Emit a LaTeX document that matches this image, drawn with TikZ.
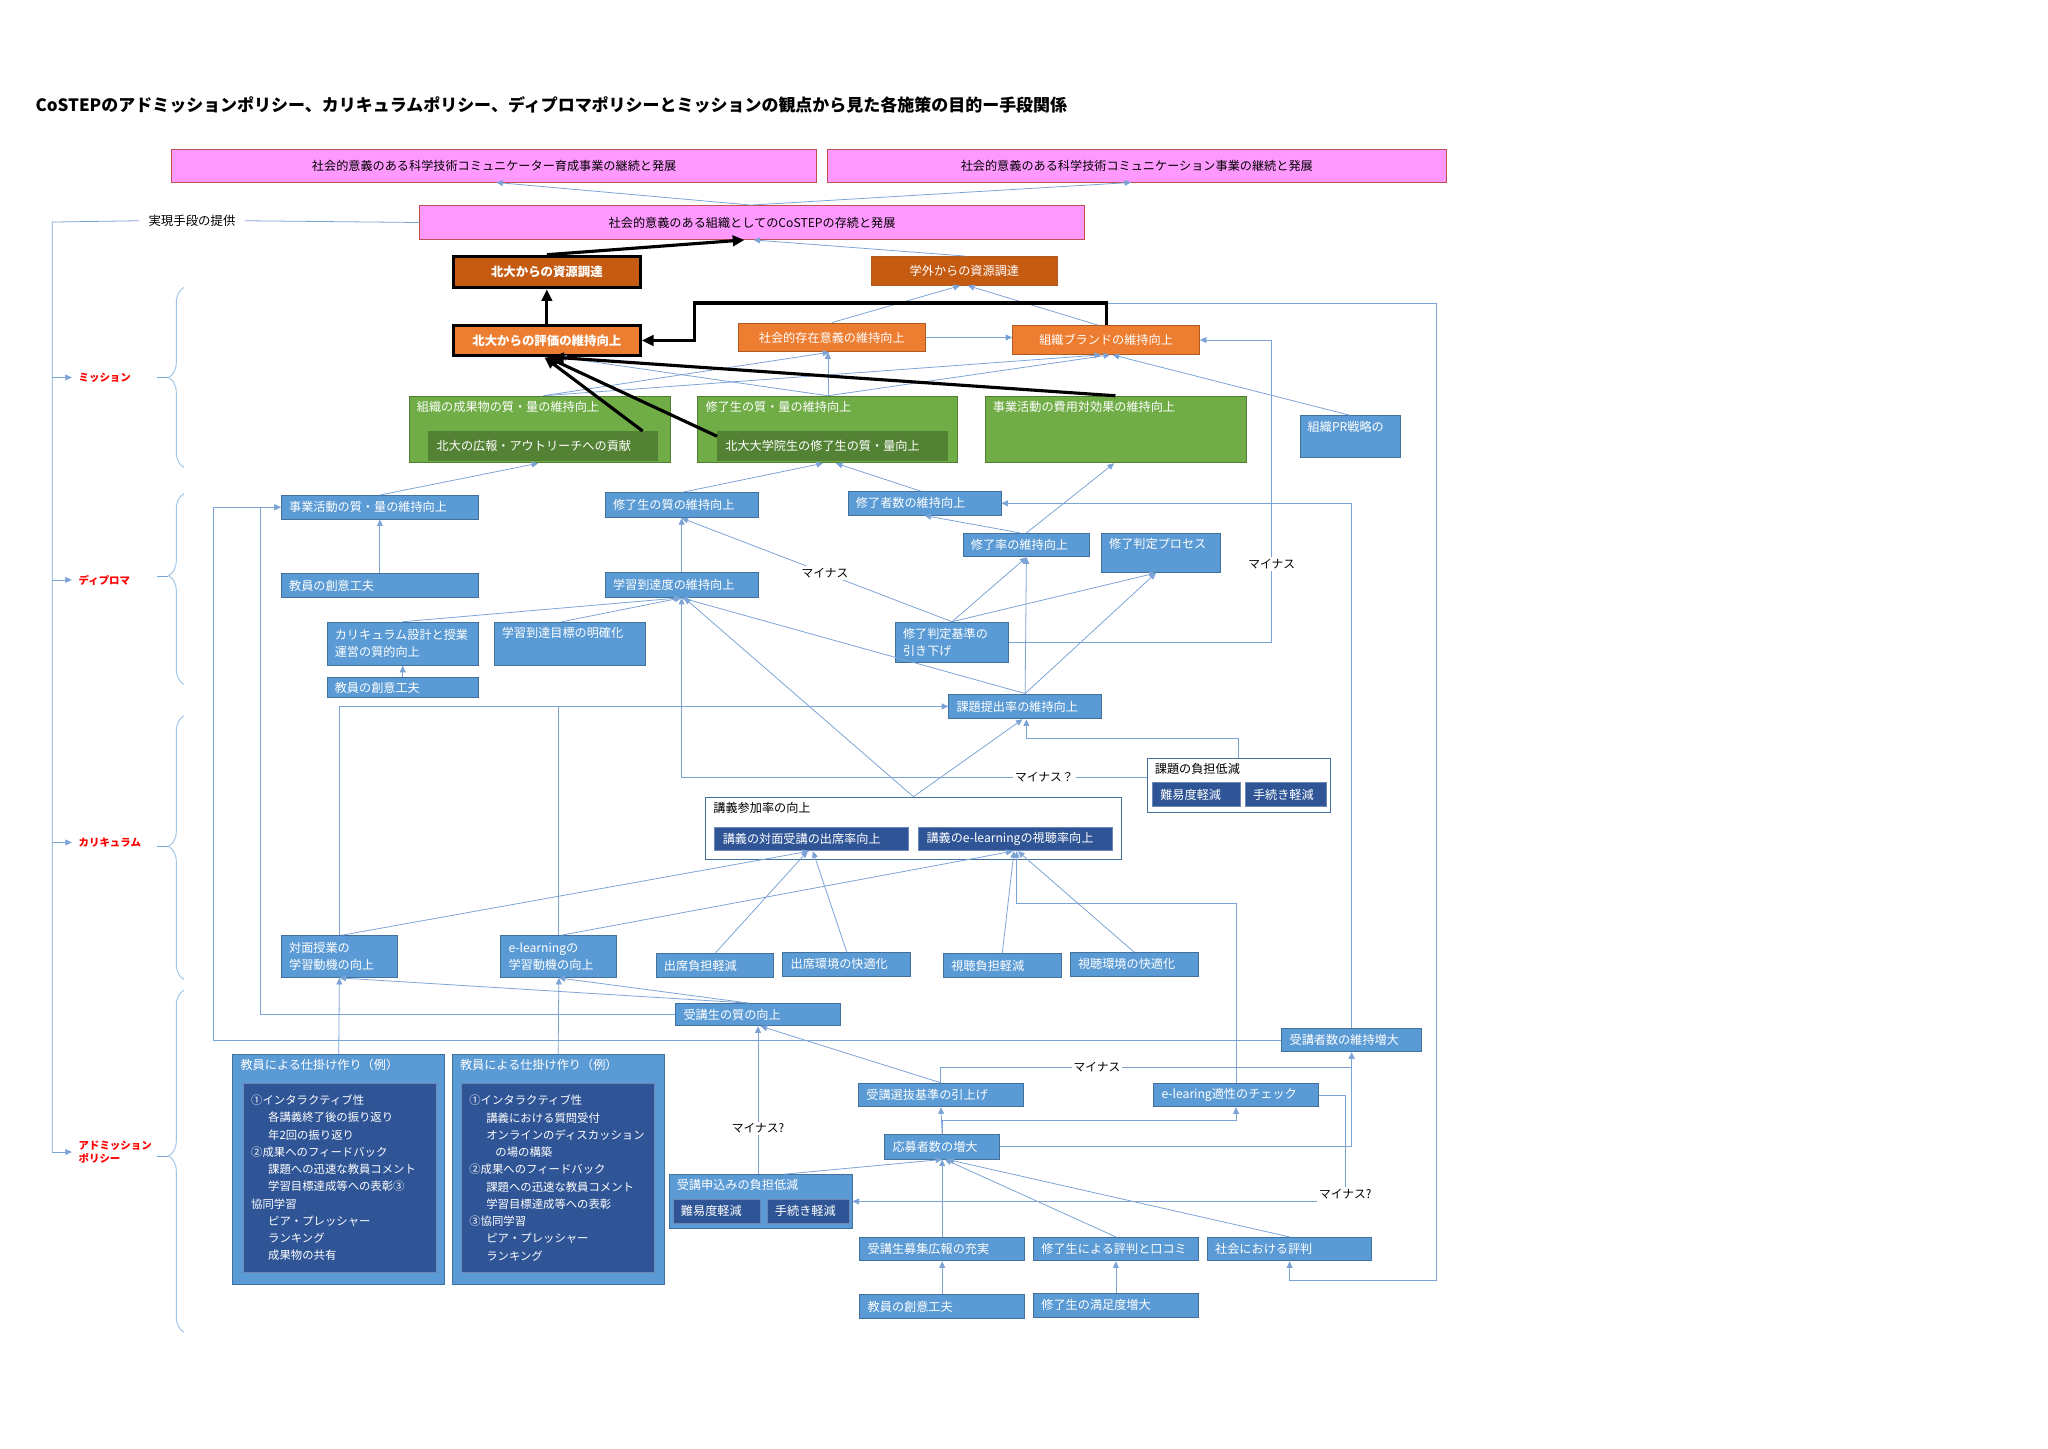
\documentclass[tikz,border=0pt]{standalone}
\usepackage{fontspec}
\setmainfont{Noto Sans CJK JP}
\usetikzlibrary{arrows.meta,calc,decorations.pathreplacing}
\definecolor{cPink}{HTML}{FF99FF}
\definecolor{cPinkLine}{HTML}{C0504D}
\definecolor{cOrg}{HTML}{ED7D31}
\definecolor{cOrgLine}{HTML}{AE5A21}
\definecolor{cDOrg}{HTML}{C55A11}
\definecolor{cGrn}{HTML}{70AD47}
\definecolor{cGrnLine}{HTML}{507E32}
\definecolor{cDGrn}{HTML}{548235}
\definecolor{cBlue}{HTML}{5B9BD5}
\definecolor{cBlueLine}{HTML}{41719C}
\definecolor{cDBlue}{HTML}{2F5597}
\definecolor{cLine}{HTML}{7BA3D6}
\definecolor{cBrace}{HTML}{9DC3E6}
\newcommand{\mkbox}[7][bx]{%
  \pgfmathsetmacro{\bxw}{#5-12}%
  \node[#1,minimum width=#5pt,minimum height=#6pt,text width=\bxw pt] (#2) at (#3,#4) {#7};}
\tikzset{
  bx/.style={draw=cBlueLine,fill=cBlue,text=white,line width=0.7pt,anchor=north west,inner xsep=6pt,inner ysep=0pt,align=left,font=\fontsize{9.3}{13}\selectfont},
  pkb/.style={bx,fill=cPink,draw=cPinkLine,text=black,align=center},
  ogb/.style={bx,fill=cOrg,draw=cOrgLine,align=center},
  dogb/.style={ogb,fill=cDOrg},
  hk/.style={draw=black,line width=2.4pt,font=\fontsize{9.5}{13}\selectfont\bfseries},
  gnb/.style={bx,fill=cGrn,draw=cGrnLine},
  dgnb/.style={bx,fill=cDGrn,draw=cDGrn},
  dkb/.style={bx,fill=cDBlue,draw=cDBlue!70!white},
  wtb/.style={bx,fill=white,draw=cBlueLine},
  lst/.style={font=\fontsize{8.7}{13.2}\selectfont},
  tlab/.style={anchor=north west,inner xsep=6pt,inner ysep=4pt,text=white,font=\fontsize{9.3}{13}\selectfont},
  tl/.style={label={[tlab]north west:#1}},
  tlk/.style={label={[tlab,text=black]north west:#1}},
  ln/.style={draw=cLine,line width=0.6pt},
  ar/.style={ln,-{Triangle[length=5pt,width=4.5pt]}},
  bar/.style={draw=black,line width=2.4pt,-{Triangle[length=9pt,width=8pt]}},
  mn/.style={fill=white,inner sep=1.5pt,font=\fontsize{9}{11}\selectfont},
  sec/.style={text=red,anchor=west,inner xsep=5pt,align=left,font=\fontsize{8}{10}\selectfont\bfseries},
  brc/.style={draw=cBrace,line width=0.7pt,decorate},
}
\begin{document}
\begin{tikzpicture}[x=1pt,y=-1pt]
\useasboundingbox (0,0) rectangle (1568,1109);
\fill[white] (0,0) rectangle (1568,1109);
\node[anchor=west,inner sep=0pt,font=\fontsize{13}{15}\selectfont\bfseries] (ttl) at (27,80) {CoSTEPのアドミッションポリシー、カリキュラムポリシー、ディプロマポリシーとミッションの観点から見た各施策の目的ー手段関係};

% ミッション
\mkbox[pkb]{p1}{131}{114}{494}{25}{社会的意義のある科学技術コミュニケーター育成事業の継続と発展}
\mkbox[pkb]{p2}{633}{114}{474}{25}{社会的意義のある科学技術コミュニケーション事業の継続と発展}
\mkbox[pkb]{p3}{321}{157}{509}{26}{社会的意義のある組織としてのCoSTEPの存続と発展}
\mkbox[dogb,hk]{h1}{346}{195}{143}{24}{北大からの資源調達}
\mkbox[dogb]{g1}{667}{196}{142}{22}{学外からの資源調達}
\mkbox[ogb,hk]{h2}{346}{248}{143}{23}{北大からの評価の維持向上}
\mkbox[ogb]{s1}{565}{247}{143}{22}{社会的存在意義の維持向上}
\mkbox[ogb]{b1}{775}{249}{143}{22}{組織ブランドの維持向上}
\mkbox[gnb,tl={組織の成果物の質・量の維持向上}]{gr1}{313}{303}{200}{51}{}
\mkbox[dgnb]{gi1}{328}{330}{175}{22}{北大の広報・アウトリーチへの貢献}
\mkbox[gnb,tl={修了生の質・量の維持向上}]{gr2}{534}{303}{199}{51}{}
\mkbox[dgnb]{gi2}{549}{330}{176}{22}{北大大学院生の修了生の質・量向上}
\mkbox[gnb,tl={事業活動の費用対効果の維持向上}]{gr3}{754}{303}{200}{51}{}
\mkbox[bx,tl={組織PR戦略の}]{pr}{995}{318}{77}{32}{}

% ディプロマ
\mkbox{d1}{215}{379}{151}{18}{事業活動の質・量の維持向上}
\mkbox{d2}{463}{377}{117}{19}{修了生の質の維持向上}
\mkbox{d3}{649}{376}{117}{18}{修了者数の維持向上}
\mkbox{d4}{737}{408}{97}{18}{修了率の維持向上}
\mkbox[bx,tl={修了判定プロセス}]{d5}{843}{408}{91}{30}{}
\mkbox{d6}{215}{439}{151}{18}{教員の創意工夫}
\mkbox{d7}{463}{438}{117}{19}{学習到達度の維持向上}
\mkbox{d8}{250}{476}{116}{33}{カリキュラム設計と授業\\運営の質的向上}
\mkbox[bx,tl={学習到達目標の明確化}]{d9}{378}{476}{116}{33}{}
\mkbox{d10}{250}{518}{116}{16}{教員の創意工夫}
\mkbox{d11}{685}{476}{87}{31}{修了判定基準の\\引き下げ}
\mkbox{d12}{726}{531}{117}{19}{課題提出率の維持向上}

% カリキュラム
\mkbox[wtb,tlk={講義参加率の向上}]{kg}{540}{610}{318}{48}{}
\mkbox[dkb]{k1}{547}{633}{148}{18}{講義の対面受講の出席率向上}
\mkbox[dkb]{k2}{703}{633}{148}{18}{講義のe-learningの視聴率向上}
\mkbox[wtb,tlk={課題の負担低減}]{kd}{878}{580}{140}{42}{}
\mkbox[dkb]{kd1}{882}{599}{67}{18}{難易度軽減}
\mkbox[dkb]{kd2}{953}{599}{62}{18}{手続き軽減}
\mkbox{c1}{215}{716}{89}{32}{対面授業の\\学習動機の向上}
\mkbox{c2}{383}{716}{89}{32}{e-learningの\\学習動機の向上}
\mkbox{c3}{502}{730}{90}{18}{出席負担軽減}
\mkbox{c4}{599}{729}{98}{18}{出席環境の快適化}
\mkbox{c5}{722}{730}{90}{18}{視聴負担軽減}
\mkbox{c6}{819}{729}{98}{18}{視聴環境の快適化}

% アドミッション
\mkbox[bx,tl={教員による仕掛け作り（例）}]{t1}{178}{807}{162}{176}{}
\mkbox[dkb,lst]{t1i}{186}{829}{148}{145}{①インタラクティブ性\\
\hspace*{13pt}各講義終了後の振り返り\\
\hspace*{13pt}年2回の振り返り\\
②成果へのフィードバック\\
\hspace*{13pt}課題への迅速な教員コメント\\
\hspace*{13pt}学習目標達成等への表彰③\\
協同学習\\
\hspace*{13pt}ピア・プレッシャー\\
\hspace*{13pt}ランキング\\
\hspace*{13pt}成果物の共有}
\mkbox[bx,tl={教員による仕掛け作り（例）}]{t2}{346}{807}{162}{176}{}
\mkbox[dkb,lst]{t2i}{353}{829}{148}{145}{①インタラクティブ性\\
\hspace*{13pt}講義における質問受付\\
\hspace*{13pt}オンラインのディスカッション\\
\hspace*{20pt}の場の構築\\
②成果へのフィードバック\\
\hspace*{13pt}課題への迅速な教員コメント\\
\hspace*{13pt}学習目標達成等への表彰\\
③協同学習\\
\hspace*{13pt}ピア・プレッシャー\\
\hspace*{13pt}ランキング}
\mkbox{a1}{517}{768}{126}{17}{受講生の質の向上}
\mkbox{a2}{981}{787}{107}{18}{受講者数の維持増大}
\mkbox{a3}{657}{829}{126}{18}{受講選抜基準の引上げ}
\mkbox{a4}{883}{829}{126}{18}{e-learing適性のチェック}
\mkbox{a5}{677}{868}{88}{19}{応募者数の増大}
\mkbox[bx,tl={受講申込みの負担低減}]{a6}{512}{899}{140}{41}{}
\mkbox[dkb]{a6a}{515}{918}{67}{18}{難易度軽減}
\mkbox[dkb]{a6b}{587}{918}{63}{18}{手続き軽減}
\mkbox{a7}{658}{947}{126}{18}{受講生募集広報の充実}
\mkbox{a8}{791}{947}{126}{18}{修了生による評判と口コミ}
\mkbox{a9}{924}{947}{126}{18}{社会における評判}
\mkbox{a10}{658}{991}{126}{18}{教員の創意工夫}
\mkbox{a11}{791}{990}{126}{18}{修了生の満足度増大}

% left side
\coordinate (lv) at (40,170);
\node[font=\fontsize{9.5}{12}\selectfont,inner xsep=7pt] (means) at (147,169) {実現手段の提供};
\node[sec] (ms) at (55,289) {ミッション};
\node[sec] (dp) at (55,444) {ディプロマ};
\node[sec] (cu) at (55,645) {カリキュラム};
\node[sec] (ad) at (55,882) {アドミッション\\ポリシー};
\draw[ln] (p3.west) -- (means.east);
\draw[ln] (means.west) -- (lv) -- (lv |- ad.west);
\foreach \s in {ms,dp,cu,ad} \draw[ar] (lv |- \s.west) -- (\s.west);
\foreach \t/\b/\y/\asp in {220/358/289/0.5,378/524/441/0.57,548/750/648/0.505,758/1020/885/0.515}{
  \draw[brc,decoration={brace,amplitude=12pt,aspect=\asp}] (141,\b) -- (141,\t);
  \draw[ln] (129,\y) -- ++(-9,0);
}

% top links
\coordinate (pt) at ([xshift=254pt]p3.north west);
\draw[ar] (pt) -- ([xshift=249pt]p1.south west);
\draw[ar] (pt) -- ([xshift=233pt]p2.south west);
\draw[ar] (g1.north) -- ([xshift=256pt]p3.south west);
\draw[ar] (s1.north) -- ([xshift=68pt]g1.south west);
\draw[ar] ([xshift=-6pt]b1.north) -- ([xshift=74pt]g1.south west);
\draw[ar] (s1.east) -- (s1.east -| b1.west);
\draw[ar] ([xshift=103pt]gr1.north west) -- ([xshift=-2pt]s1.south);
\draw[ar] ([xshift=103pt]gr1.north west) -- ([xshift=-4pt]b1.south);
\draw[ar] (gr2.north) -- (gr2.north |- s1.south);
\draw[ar] (gr2.north) -- ([xshift=3pt]b1.south);
\draw[ar] (gr2.north) -- ([xshift=10pt]h2.south);
\draw[ar] (pr.north) -- ([xshift=5pt]b1.south);
\coordinate (bc) at ([yshift=17pt]b1.north);
\draw[ar] (bc) -| (1100,980) -| (a9.south);
\draw[bar] (h1.north) -- ([xshift=249pt]p3.south west);
\draw[bar] (h2.north) -- (h1.south);
\draw[bar] (b1.north) -- (bc) -| ([xshift=40pt]h2.east) -- (h2.east);
\draw[bar] ([xshift=164pt]gi1.north west) -- ([xshift=-2pt]h2.south);
\draw[bar] ([yshift=-4pt]gi2.north west) -- (h2.south);
\draw[bar] ([xshift=100pt]gr3.north west) -- ([xshift=4pt]h2.south);

% diploma links
\draw[ar] (d1.north) -- ([xshift=99pt]gr1.south west);
\draw[ar] (d2.north) -- ([xshift=96pt]gr2.south west);
\draw[ar] ([xshift=-3pt]d3.north) -- ([xshift=106pt]gr2.south west);
\draw[ar] (d4.north) -- ([xshift=99pt]gr3.south west);
\draw[ar] ([xshift=-5pt]d4.north) -- (d3.south);
\draw[ar] (d11.north) -- (d4.south);
\draw[ar] (d11.north) -- ([xshift=42pt]d5.south west);
\draw[ar] (d11.north) -- node[mn,pos=0.47]{マイナス} (d2.south);
\draw[ar] (d12.north) -- (d4.south);
\draw[ar] (d12.north) -- ([xshift=42pt]d5.south west);
\draw[ar] (d12.north) -- (d7.south);
\draw[ar] (d7.north) -- (d2.south);
\draw[ar] (d6.north) -- (d1.south);
\draw[ar] (d8.north) -- ([xshift=-1pt]d7.south);
\draw[ar] ([xshift=-6pt]d9.north) -- (d7.south);
\draw[ar] (d10.north) -- (d8.south);
\draw[ar] (d11.east) -| node[mn,pos=0.63]{マイナス} ([xshift=55pt]b1.east) -- (b1.east);
\draw[ar] (a2.north) |- (d3.east);

% curriculum links
\draw[ar] (kg.north) -- ([xshift=2pt]d7.south);
\draw[ar] (kg.north) -- ([xshift=-2pt]d12.south);
\draw[ar] (c1.north) |- (d12.west);
\draw[ln] (c2.north) |- (d12.west);
\draw[ar] ([yshift=6pt]kd.west) -| node[mn,pos=0.11]{マイナス？} (d7.south);
\draw[ar] (kd.north) -- ++(0,-15) -| ([xshift=1pt]d12.south);
\draw[ar] ([xshift=2pt]c1.north) -- ([xshift=-2pt]k1.south);
\draw[ar] ([xshift=2pt]c2.north) -- ([xshift=-2pt]k2.south);
\draw[ar] (c3.north) -- ([xshift=-3pt]k1.south);
\draw[ar] (c4.north) -- ([xshift=1pt]k1.south);
\draw[ar] (c5.north) -- ([xshift=-1pt]k2.south);
\draw[ar] (c6.north) -- ([xshift=2pt]k2.south);
\draw[ar] (a4.north) |- ([xshift=1pt,yshift=-40pt]k2.south) -- ([xshift=1pt]k2.south);

% admission links
\draw[ar] ([xshift=-7pt]a1.north) -- (c1.south);
\draw[ar] ([xshift=-7pt]a1.north) -- (c2.south);
\draw[ar] (t1.north) -- (c1.south);
\draw[ar] (t2.north) -- (c2.south);
\draw[ar] (a1.west) -| ([xshift=-16pt]d1.west) -- (d1.west);
\draw[ar] (a2.west) -| ([xshift=-52pt]d1.west) -- (d1.west);
\draw[ar] (a3.north) -- ([xshift=2pt]a1.south);
\draw[ar] (a1.south |- a6.north) -- node[mn,pos=0.31]{マイナス?} (a1.south);
\draw[ar] ([xshift=18pt]a6.north) -- (a5.south);
\draw[ar] (a5.north) -- (a3.south);
\draw[ar] (a5.north) -- ++(0,-10) -| (a4.south);
\draw[ar] (a5.east) -| (a2.south);
\draw[ar] (a3.north) -- ++(0,-12) -| node[mn,pos=0.19]{マイナス} (a2.south);
\node[mn] (mq) at (1030,914) {マイナス?};
\draw[ln] (a4.east) -| (mq.north);
\draw[ar] (mq.west |- a6.east) -- (a6.east);
\draw[ar] (a7.north) -- (a5.south);
\draw[ar] (a8.north) -- ([xshift=2pt]a5.south);
\draw[ar] (a9.north) -- ([xshift=4pt]a5.south);
\draw[ar] (a10.north) -- (a7.south);
\draw[ar] (a11.north) -- (a8.south);
\end{tikzpicture}
\end{document}
